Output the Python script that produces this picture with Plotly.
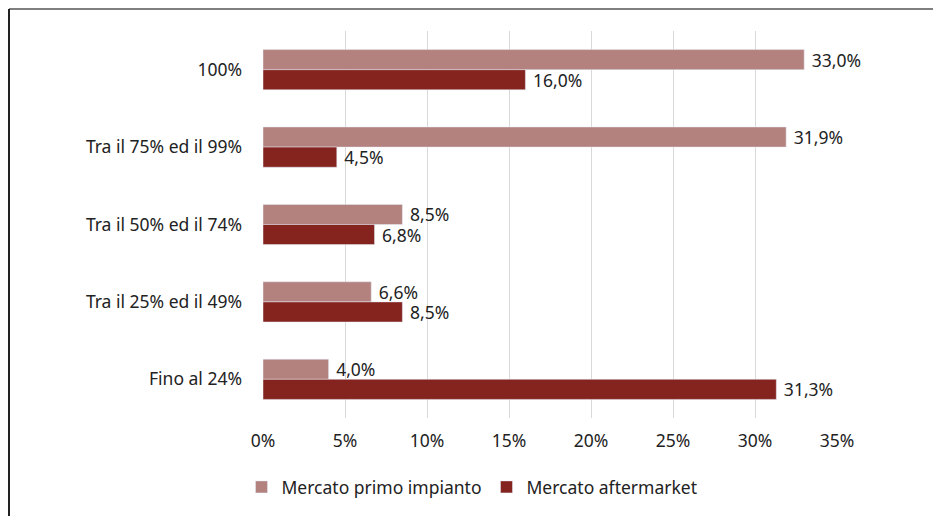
import plotly.graph_objects as go

categorie = ["100%", "Tra il 75% ed il 99%", "Tra il 50% ed il 74%",
             "Tra il 25% ed il 49%", "Fino al 24%"]
primo_impianto = [33.0, 31.9, 8.5, 6.6, 4.0]
aftermarket = [16.0, 4.5, 6.8, 8.5, 31.3]
tick_vals = [0, 5, 10, 15, 20, 25, 30, 35]


def etichette(valori):
    return [" " + f"{v:.1f}%".replace(".", ",") for v in valori]


# la pagina ha un margine di 8px attorno al grafico
OFF = 8
W, H = 941 - 2 * OFF, 516 - OFF
L, T = 263 - OFF, 31 - OFF
R = W - (837 - OFF)
B = H - (418 - OFF)
pw, ph = W - L - R, H - T - B
FS = 17.5

fig = go.Figure()

fig.add_trace(go.Bar(
    y=categorie, x=primo_impianto, orientation="h",
    name="Mercato primo impianto",
    marker_color="#b3827f",
    text=etichette(primo_impianto), textposition="outside",
    textfont=dict(size=FS, color="#222222"),
    constraintext="none", cliponaxis=False,
))
fig.add_trace(go.Bar(
    y=categorie, x=aftermarket, orientation="h",
    name="Mercato aftermarket",
    marker_color="#85231f",
    text=etichette(aftermarket), textposition="outside",
    textfont=dict(size=FS, color="#222222"),
    constraintext="none", cliponaxis=False,
))

# cornice: solo bordo superiore e sinistro
top = (H - B - 1) / ph
left = (1 - L) / pw
fig.add_shape(type="line", xref="paper", yref="paper",
              x0=left, x1=(W - L) / pw, y0=top, y1=top,
              line=dict(color="#7f7f7f", width=2))
fig.add_shape(type="line", xref="paper", yref="paper",
              x0=left, x1=left, y0=top, y1=-B / ph,
              line=dict(color="#222222", width=2))

fig.update_layout(
    width=W, height=H,
    barmode="group", bargap=0.48, bargroupgap=0,
    plot_bgcolor="white", paper_bgcolor="white",
    margin=dict(l=L, r=R, t=T, b=B, autoexpand=False),
    font=dict(family="Noto Sans, sans-serif", size=FS, color="#222222"),
    xaxis=dict(range=[0, 35], tickvals=tick_vals,
               ticktext=[f"{v}%" for v in tick_vals],
               showgrid=True, gridcolor="#d9d9d9", gridwidth=1,
               zeroline=False, showline=False, ticks="",
               ticklabelstandoff=10, tickfont=dict(size=FS)),
    yaxis=dict(autorange="reversed", showgrid=False, zeroline=False,
               showline=False, ticks="", ticklabelstandoff=20,
               tickfont=dict(size=FS)),
    legend=dict(orientation="h", x=(472 - 263) / pw, xanchor="center",
                y=-69 / ph, yanchor="middle", font=dict(size=FS),
                itemwidth=30),
)

fig.write_html("out.html")
